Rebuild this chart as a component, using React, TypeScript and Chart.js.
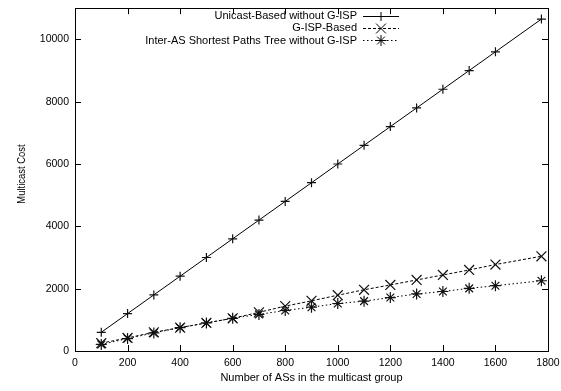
import React, { useEffect, useRef } from "react";
import { Chart, registerables } from "chart.js";
import { drawPoint } from "chart.js/helpers";

Chart.register(...registerables);

const groupSizes = [100, 200, 300, 400, 500, 600, 700, 800, 900, 1000, 1100, 1200, 1300, 1400, 1500, 1600, 1775];
const unicastCost = [600, 1200, 1800, 2400, 3000, 3600, 4200, 4800, 5400, 6000, 6600, 7200, 7800, 8400, 9000, 9600, 10650];
const gispCost = [250, 420, 600, 750, 900, 1050, 1240, 1440, 1610, 1790, 1965, 2120, 2280, 2440, 2600, 2775, 3040];
const sptCost = [210, 400, 580, 750, 900, 1050, 1175, 1300, 1405, 1525, 1600, 1715, 1830, 1910, 2010, 2095, 2255];

const seriesNames = [
  "Unicast-Based without G-ISP",
  "G-ISP-Based",
  "Inter-AS Shortest Paths Tree without G-ISP",
];
const xTickValues = [0, 200, 400, 600, 800, 1000, 1200, 1400, 1600, 1800];
const yTickValues = [0, 2000, 4000, 6000, 8000, 10000];
const xTitle = "Number of ASs in the multicast group";
const yTitle = "Multicast Cost";

const FONT = "'Liberation Sans', Arial, Helvetica, sans-serif";

export default function App() {
  const ref = useRef<HTMLCanvasElement | null>(null);

  useEffect(() => {
    if (!ref.current) return;
    const styles = [
      { style: "cross", radius: 4.5, dash: [] as number[] },
      { style: "crossRot", radius: 7, dash: [3, 2] },
      { style: "star", radius: 5.5, dash: [1.5, 2.5] },
    ];
    const values = [unicastCost, gispCost, sptCost];

    const framePlugin = {
      id: "frame",
      afterDraw(chart: any) {
        const ctx = chart.ctx;
        const { left, right, top, bottom } = chart.chartArea;
        const xs = chart.scales.x;
        const ys = chart.scales.y;
        ctx.save();
        ctx.strokeStyle = "#000";
        ctx.lineWidth = 1;
        ctx.setLineDash([]);
        ctx.strokeRect(Math.round(left) + 0.5, Math.round(top) + 0.5, Math.round(right - left), Math.round(bottom - top));
        ctx.beginPath();
        const tl = 6;
        xTickValues.forEach((v) => {
          const px = Math.round(xs.getPixelForValue(v)) + 0.5;
          ctx.moveTo(px, bottom);
          ctx.lineTo(px, bottom - tl);
          ctx.moveTo(px, top);
          ctx.lineTo(px, top + tl);
        });
        yTickValues.forEach((v) => {
          const py = Math.round(ys.getPixelForValue(v)) + 0.5;
          ctx.moveTo(left, py);
          ctx.lineTo(left + tl, py);
          ctx.moveTo(right, py);
          ctx.lineTo(right - tl, py);
        });
        ctx.stroke();

        // y title (slightly compressed, as in the reference)
        ctx.save();
        ctx.translate(25, 174);
        ctx.rotate(-Math.PI / 2);
        ctx.scale(0.86, 1);
        ctx.font = `11px ${FONT}`;
        ctx.fillStyle = "#000";
        ctx.textAlign = "center";
        ctx.textBaseline = "alphabetic";
        ctx.fillText(yTitle, 0, 0);
        ctx.restore();

        // legend
        const textRight = 357;
        const lineL = 363;
        const lineR = 399;
        const rows = [15.5, 27.5, 40];
        ctx.font = `11px ${FONT}`;
        ctx.textAlign = "right";
        ctx.textBaseline = "middle";
        seriesNames.forEach((name, i) => {
          const y = rows[i];
          ctx.fillStyle = "#000";
          ctx.fillText(name, textRight, y + 0.5);
          ctx.beginPath();
          ctx.setLineDash(styles[i].dash);
          ctx.strokeStyle = "#000";
          ctx.lineWidth = 1;
          ctx.moveTo(lineL, Math.round(y) + 0.5);
          ctx.lineTo(lineR, Math.round(y) + 0.5);
          ctx.stroke();
          ctx.setLineDash([]);
          const el = chart.getDatasetMeta(i).data[0];
          if (el) {
            drawPoint(ctx, el.options, 381, Math.round(y) + 0.5);
          }
        });
        ctx.restore();
      },
    };

    const chart = new Chart(ref.current, {
      type: "line",
      data: {
        datasets: values.map((vals, i) => ({
          label: seriesNames[i],
          data: groupSizes.map((x, j) => ({ x, y: vals[j] })),
          borderColor: "#000",
          borderWidth: 1,
          borderDash: styles[i].dash,
          pointStyle: styles[i].style as any,
          pointRadius: styles[i].radius,
          pointBorderColor: "#111",
          pointBackgroundColor: "#111",
          pointBorderWidth: 1.2,
          fill: false,
          tension: 0,
        })),
      },
      options: {
        responsive: false,
        animation: false,
        layout: { padding: { top: 4, right: 13, left: 0, bottom: 0 } },
        plugins: { legend: { display: false }, tooltip: { enabled: false } },
        scales: {
          x: {
            type: "linear",
            min: 0,
            max: 1800,
            afterBuildTicks: (s: any) => {
              s.ticks = xTickValues.map((v) => ({ value: v }));
            },
            afterFit: (s: any) => {
              s.height = 40;
              s.paddingLeft = 0;
              s.paddingRight = 0;
            },
            grid: { display: false, drawTicks: false, tickLength: 0 },
            border: { display: false },
            ticks: {
              padding: 6,
              maxRotation: 0,
              autoSkip: false,
              color: "#000",
              font: { family: FONT, size: 10.5 },
              callback: (v: any) => String(v),
            },
            title: {
              display: true,
              text: xTitle,
              color: "#000",
              font: { family: FONT, size: 11 },
              padding: { top: 0, bottom: 6 },
            },
          },
          y: {
            type: "linear",
            min: 0,
            max: 11000,
            afterBuildTicks: (s: any) => {
              s.ticks = yTickValues.map((v) => ({ value: v }));
            },
            afterFit: (s: any) => {
              s.width = 75;
              s.paddingTop = 0;
              s.paddingBottom = 0;
            },
            grid: { display: false, drawTicks: false, tickLength: 0 },
            border: { display: false },
            ticks: {
              padding: 6,
              autoSkip: false,
              color: "#000",
              font: { family: FONT, size: 10.5 },
              callback: (v: any) => String(v),
            },
            title: { display: false },
          },
        },
      },
      plugins: [framePlugin],
    });

    return () => chart.destroy();
  }, []);

  return (
    <div style={{ position: "fixed", left: 0, top: 0, width: 561, height: 391, background: "#fff" }}>
      <canvas ref={ref} width={561} height={391} style={{ width: 561, height: 391 }} />
    </div>
  );
}
